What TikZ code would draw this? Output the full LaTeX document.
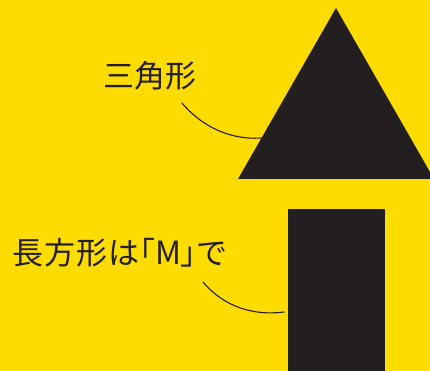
\documentclass[tikz,border=0pt]{standalone}
\usepackage{fontspec}
\newfontfamily\jp{Noto Sans CJK JP}
\newfontfamily\jps[LetterSpace=4]{Noto Sans CJK JP}
\newfontfamily\jpp[RawFeature=+palt]{Noto Sans CJK JP}
\definecolor{bgyellow}{HTML}{FFDC00}
\definecolor{ink}{HTML}{231F20}
\tikzset{
  label text/.style={font=\jp, text=ink, inner sep=0pt, anchor=center},
  leader/.style={draw=ink, line width=1.1pt, line cap=round},
  shapefill/.style={fill=ink, draw=none}
}
\begin{document}
\begin{tikzpicture}[x=1pt,y=-1pt]
\fill[bgyellow] (0,0) rectangle (430,371);
\useasboundingbox (0,0) rectangle (430,371);
% triangle
\fill[shapefill] (336,8) -- (238,179) -- (434,179) -- cycle;
% rectangle
\fill[shapefill] (288,209) rectangle (385,371);
% labels
\node[label text, font=\jp\fontsize{31}{31}\selectfont] (tri) at (150,76) {三角形};
\node[label text, font=\jps\fontsize{31}{31}\selectfont] (rect) at (120,253) {長方形は{\jpp「}{\fontsize{32}{32}\selectfont M}{\jpp」}で};
% leaders
\coordinate (t1) at (182,103);
\coordinate (t2) at (261,138);
\coordinate (r1) at (203,282);
\coordinate (r2) at (284,312);
\draw[leader] (t1) .. controls (203,128) and (232,140) .. (t2);
\draw[leader] (r1) .. controls (224,307) and (254,316) .. (r2);
\end{tikzpicture}
\end{document}
